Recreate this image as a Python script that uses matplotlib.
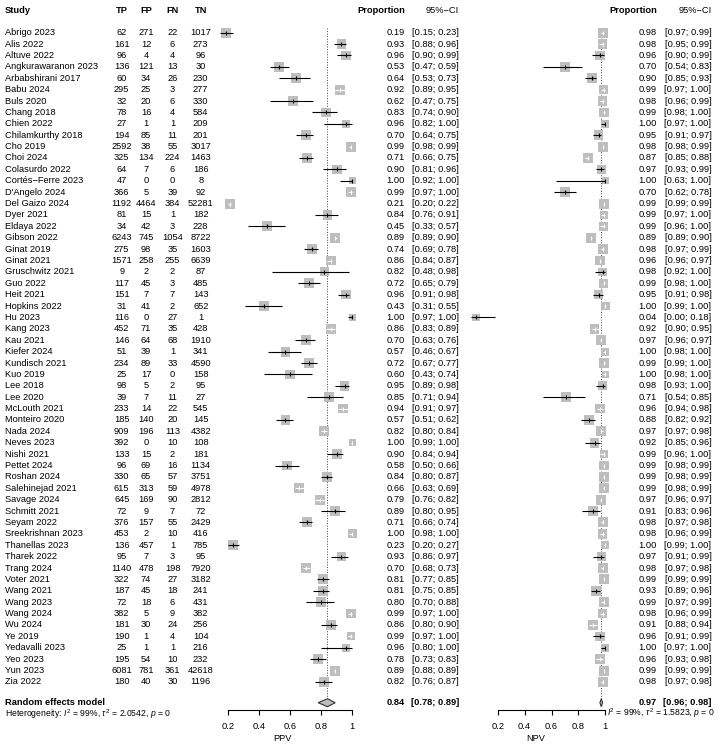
import numpy as np
import matplotlib
matplotlib.use('Agg')
import matplotlib.pyplot as plt
from matplotlib.transforms import blended_transform_factory

plt.rcParams['font.family'] = ['Liberation Sans', 'DejaVu Sans']
plt.rcParams['mathtext.fontset'] = 'custom'
plt.rcParams['mathtext.rm'] = 'Liberation Sans'
plt.rcParams['mathtext.it'] = 'Liberation Sans:italic'

# data
studies = ['Abrigo 2023', 'Alis 2022', 'Altuve 2022', 'Angkurawaranon 2023', 'Arbabshirani 2017',
           'Babu 2024', 'Buls 2020', 'Chang 2018', 'Chien 2022', 'Chilamkurthy 2018', 'Cho 2019',
           'Choi 2024', 'Colasurdo 2022', 'Cortés\u2212Ferre 2023', "D'Angelo 2024", 'Del Gaizo 2024',
           'Dyer 2021', 'Eldaya 2022', 'Gibson 2022', 'Ginat 2019', 'Ginat 2021', 'Gruschwitz 2021',
           'Guo 2022', 'Heit 2021', 'Hopkins 2022', 'Hu 2023', 'Kang 2023', 'Kau 2021', 'Kiefer 2024',
           'Kundisch 2021', 'Kuo 2019', 'Lee 2018', 'Lee 2020', 'McLouth 2021', 'Monteiro 2020',
           'Nada 2024', 'Neves 2023', 'Nishi 2021', 'Pettet 2024', 'Roshan 2024', 'Salehinejad 2021',
           'Savage 2024', 'Schmitt 2021', 'Seyam 2022', 'Sreekrishnan 2023', 'Thanellas 2023',
           'Tharek 2022', 'Trang 2024', 'Voter 2021', 'Wang 2021', 'Wang 2023', 'Wang 2024',
           'Wu 2024', 'Ye 2019', 'Yedavalli 2023', 'Yeo 2023', 'Yun 2023', 'Zia 2022']
tp = [62, 161, 96, 136, 60, 295, 32, 78, 27, 194, 2592, 325, 64, 47, 366, 1192, 81, 34, 6243, 275,
      1571, 9, 117, 151, 31, 116, 452, 146, 51, 234, 25, 98, 39, 233, 185, 909, 392, 133, 96, 330,
      615, 645, 72, 376, 453, 136, 95, 1140, 322, 187, 72, 382, 181, 190, 25, 195, 6081, 180]
fp = [271, 12, 4, 121, 34, 25, 20, 16, 1, 85, 38, 134, 7, 0, 5, 4464, 15, 42, 745, 98,
      258, 2, 45, 7, 41, 0, 71, 64, 39, 89, 17, 5, 7, 14, 140, 196, 0, 15, 69, 65,
      313, 169, 9, 157, 2, 457, 7, 478, 74, 45, 18, 5, 30, 1, 1, 54, 781, 40]
fn = [22, 6, 4, 13, 26, 3, 6, 4, 1, 11, 55, 224, 6, 0, 39, 384, 1, 3, 1054, 35,
      255, 2, 3, 7, 2, 27, 35, 68, 1, 33, 0, 2, 11, 22, 20, 113, 10, 2, 16, 57,
      59, 90, 7, 55, 10, 1, 3, 198, 27, 18, 6, 9, 24, 4, 1, 10, 361, 30]
tn = [1017, 273, 96, 30, 230, 277, 330, 584, 209, 201, 3017, 1463, 186, 8, 92, 52281, 182, 228, 8722, 1603,
      6639, 87, 485, 143, 652, 1, 428, 1910, 341, 4590, 158, 95, 27, 545, 145, 4382, 108, 181, 1134, 3751,
      4978, 2812, 72, 2429, 416, 785, 95, 7920, 3182, 241, 431, 382, 256, 104, 216, 232, 42618, 1196]

ppv = [0.19, 0.93, 0.96, 0.53, 0.64, 0.92, 0.62, 0.83, 0.96, 0.70, 0.99, 0.71, 0.90, 1.00, 0.99, 0.21,
       0.84, 0.45, 0.89, 0.74, 0.86, 0.82, 0.72, 0.96, 0.43, 1.00, 0.86, 0.70, 0.57, 0.72, 0.60, 0.95,
       0.85, 0.94, 0.57, 0.82, 1.00, 0.90, 0.58, 0.84, 0.66, 0.79, 0.89, 0.71, 1.00, 0.23, 0.93, 0.70,
       0.81, 0.81, 0.80, 0.99, 0.86, 0.99, 0.96, 0.78, 0.89, 0.82]
ppv_lo = [0.15, 0.88, 0.90, 0.47, 0.53, 0.89, 0.47, 0.74, 0.82, 0.64, 0.98, 0.66, 0.81, 0.92, 0.97, 0.20,
          0.76, 0.33, 0.89, 0.69, 0.84, 0.48, 0.65, 0.91, 0.31, 0.97, 0.83, 0.63, 0.46, 0.67, 0.43, 0.89,
          0.71, 0.91, 0.51, 0.80, 0.99, 0.84, 0.50, 0.80, 0.63, 0.76, 0.80, 0.66, 0.98, 0.20, 0.86, 0.68,
          0.77, 0.75, 0.70, 0.97, 0.80, 0.97, 0.80, 0.73, 0.88, 0.76]
ppv_hi = [0.23, 0.96, 0.99, 0.59, 0.73, 0.95, 0.75, 0.90, 1.00, 0.75, 0.99, 0.75, 0.96, 1.00, 1.00, 0.22,
          0.91, 0.57, 0.90, 0.78, 0.87, 0.98, 0.79, 0.98, 0.55, 1.00, 0.89, 0.76, 0.67, 0.77, 0.74, 0.98,
          0.94, 0.97, 0.62, 0.84, 1.00, 0.94, 0.66, 0.87, 0.69, 0.82, 0.95, 0.74, 1.00, 0.27, 0.97, 0.73,
          0.85, 0.85, 0.88, 1.00, 0.90, 1.00, 1.00, 0.83, 0.89, 0.87]

npv = [0.98, 0.98, 0.96, 0.70, 0.90, 0.99, 0.98, 0.99, 1.00, 0.95, 0.98, 0.87, 0.97, 1.00, 0.70, 0.99,
       0.99, 0.99, 0.89, 0.98, 0.96, 0.98, 0.99, 0.95, 1.00, 0.04, 0.92, 0.97, 1.00, 0.99, 1.00, 0.98,
       0.71, 0.96, 0.88, 0.97, 0.92, 0.99, 0.99, 0.99, 0.99, 0.97, 0.91, 0.98, 0.98, 1.00, 0.97, 0.98,
       0.99, 0.93, 0.99, 0.98, 0.91, 0.96, 1.00, 0.96, 0.99, 0.98]
npv_lo = [0.97, 0.95, 0.90, 0.54, 0.85, 0.97, 0.96, 0.98, 0.97, 0.91, 0.98, 0.85, 0.93, 0.63, 0.62, 0.99,
          0.97, 0.96, 0.89, 0.97, 0.96, 0.92, 0.98, 0.91, 0.99, 0.00, 0.90, 0.96, 0.98, 0.99, 0.98, 0.93,
          0.54, 0.94, 0.82, 0.97, 0.85, 0.96, 0.98, 0.98, 0.98, 0.96, 0.83, 0.97, 0.96, 0.99, 0.91, 0.97,
          0.99, 0.89, 0.97, 0.96, 0.88, 0.91, 0.97, 0.93, 0.99, 0.97]
npv_hi = [0.99, 0.99, 0.99, 0.83, 0.93, 1.00, 0.99, 1.00, 1.00, 0.97, 0.99, 0.88, 0.99, 1.00, 0.78, 0.99,
          1.00, 1.00, 0.90, 0.99, 0.97, 1.00, 1.00, 0.98, 1.00, 0.18, 0.95, 0.97, 1.00, 1.00, 1.00, 1.00,
          0.85, 0.98, 0.92, 0.98, 0.96, 1.00, 0.99, 0.99, 0.99, 0.97, 0.96, 0.98, 0.99, 1.00, 0.99, 0.98,
          0.99, 0.96, 0.99, 0.99, 0.94, 0.99, 1.00, 0.98, 0.99, 0.98]

ppv_pooled = (0.84, 0.78, 0.89)
npv_pooled = (0.97, 0.96, 0.98)
ppv_tau2 = 2.0542
npv_tau2 = 1.5823

# ---- layout (pixels of a 719x745 canvas) ----
W, H = 719, 745
ROW0, ROWH = 32.7, 11.39       # y of first study row, row spacing
TOP, BOT = 0, 710              # forest axes top / bottom (axis line)
FS = 6.7


def row_of(py):
    return (py - ROW0) / ROWH


fig = plt.figure(figsize=(W / 100, H / 100), dpi=100)


def make_axes(px_left, px_right, px02, px1):
    ax = fig.add_axes([px_left / W, 1 - BOT / H, (px_right - px_left) / W, (BOT - TOP) / H])
    ppu = (px1 - px02) / 0.8
    ax.set_xlim(0.2 + (px_left - px02) / ppu, 1 + (px_right - px1) / ppu)
    ax.set_ylim(row_of(BOT), row_of(TOP))
    ax.patch.set_visible(False)
    for s in ['left', 'right', 'top']:
        ax.spines[s].set_visible(False)
    ax.spines['bottom'].set_bounds(0.2, 1)
    ax.spines['bottom'].set_linewidth(0.8)
    ax.set_yticks([])
    ax.set_xticks([0.2, 0.4, 0.6, 0.8, 1.0])
    ax.set_xticklabels(['0.2', '0.4', '0.6', '0.8', '1'])
    ax.tick_params(axis='x', direction='out', length=3.5, width=0.8, pad=5, labelsize=FS)
    return ax, ppu


def box_sizes(events, nonevents, tau2, max_px=10.0):
    e = np.array(events, float)
    ne = np.array(nonevents, float)
    cc = np.where((e == 0) | (ne == 0), 0.5, 0.0)
    v = 1 / (e + cc) + 1 / (ne + cc)
    w = 1 / (v + tau2)
    return max_px * np.sqrt(w / w.max())


def forest(ax, ppu, est, lo, hi, sizes, pooled, label):
    est, lo, hi = map(np.array, (est, lo, hi))
    rows = np.arange(len(est))
    ax.scatter(est, rows, marker='s', s=(sizes * 0.72) ** 2, color='#bebebe', lw=0, zorder=2)
    for i in rows:
        half = sizes[i] / 2 / ppu
        inside = lo[i] >= est[i] - half and hi[i] <= est[i] + half
        col = 'white' if inside else 'black'
        ax.plot([lo[i], hi[i]], [i, i], color=col, lw=0.8, zorder=3, solid_capstyle='butt')
        ax.plot(est[i], i, marker='|', ms=3, mew=0.8, color=col, zorder=3)
    r = row_of(702.7)
    ax.plot([pooled[0]] * 2, [row_of(28), r - 0.35], ls=':', color='#444444', lw=0.7, zorder=1)
    ax.fill([pooled[1], pooled[0], pooled[2], pooled[0]], [r, r - 0.35, r, r + 0.35],
            facecolor='#bebebe', edgecolor='#333333', lw=0.8, zorder=3)
    ax.set_xlabel(label, fontsize=FS, labelpad=2.5)


ax1, ppu1 = make_axes(200, 365, 228.0, 352.3)
ax2, ppu2 = make_axes(460, 612, 497.7, 605.3)

forest(ax1, ppu1, ppv, ppv_lo, ppv_hi, box_sizes(tp, fp, ppv_tau2), ppv_pooled, 'PPV')
forest(ax2, ppu2, npv, npv_lo, npv_hi, box_sizes(tn, fn, npv_tau2), npv_pooled, 'NPV')

# ---- text columns ----
tr = blended_transform_factory(fig.transFigure, ax1.transData)


def txt(px, row, s, ha='left', **kw):
    fig.text(px / W, row, s, transform=tr, ha=ha, va='center', fontsize=kw.pop('fontsize', FS), **kw)


hdr = row_of(11)
txt(5, hdr, 'Study', weight='bold')
for px, name in [(121.7, 'TP'), (146, 'FP'), (172.5, 'FN'), (200.7, 'TN')]:
    txt(px, hdr, name, ha='center', weight='bold')
txt(405, hdr, 'Proportion', ha='right', weight='bold')
txt(459, hdr, '95%\u2212CI', ha='right')
txt(657, hdr, 'Proportion', ha='right', weight='bold')
txt(711.5, hdr, '95%\u2212CI', ha='right')

for i, name in enumerate(studies):
    txt(5, i, name)
    txt(121.7, i, str(tp[i]), ha='center')
    txt(146, i, str(fp[i]), ha='center')
    txt(172.5, i, str(fn[i]), ha='center')
    txt(200.7, i, str(tn[i]), ha='center')
    txt(405, i, f'{ppv[i]:.2f}', ha='right')
    txt(459, i, f'[{ppv_lo[i]:.2f}; {ppv_hi[i]:.2f}]', ha='right')
    txt(657, i, f'{npv[i]:.2f}', ha='right')
    txt(711.5, i, f'[{npv_lo[i]:.2f}; {npv_hi[i]:.2f}]', ha='right')

r = row_of(702.2)
txt(5, r, 'Random effects model', weight='bold')
txt(405, r, f'{ppv_pooled[0]:.2f}', ha='right', weight='bold')
txt(459, r, f'[{ppv_pooled[1]:.2f}; {ppv_pooled[2]:.2f}]', ha='right', weight='bold')
txt(657, r, f'{npv_pooled[0]:.2f}', ha='right', weight='bold')
txt(711.5, r, f'[{npv_pooled[1]:.2f}; {npv_pooled[2]:.2f}]', ha='right', weight='bold')

txt(5, row_of(714.5), r'Heterogeneity: $I^2$ = 99%, $\tau^2$ = ' + f'{ppv_tau2:.4f}' + r', $p$ = 0', fontsize=6.2)
txt(607, row_of(713.5), r'$I^2$ = 99%, $\tau^2$ = ' + f'{npv_tau2:.4f}' + r', $p$ = 0', fontsize=6.2)

fig.savefig('out.png', dpi=100)
